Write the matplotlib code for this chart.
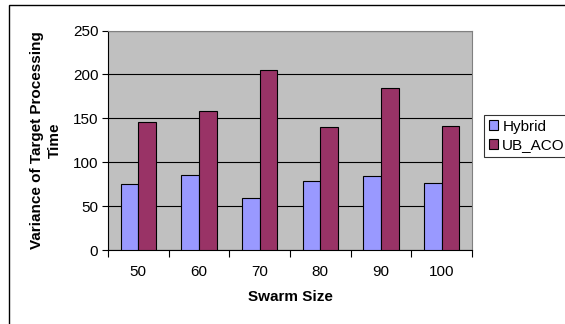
import matplotlib.pyplot as plt
import numpy as np
from matplotlib.patches import Rectangle

plt.rcParams['font.family'] = ['Liberation Sans', 'DejaVu Sans']

swarm_sizes = ['50', '60', '70', '80', '90', '100']
hybrid = [75, 85, 59, 79, 84, 76]
ub_aco = [146, 158, 205, 140, 185, 141]

fig = plt.figure(figsize=(5.65, 3.24), dpi=100)
ax = fig.add_axes([108 / 565, 1 - 250 / 324, 364 / 565, 219.5 / 324])

x = np.arange(len(swarm_sizes))
w = 0.29
ax.bar(x - w / 2, hybrid, w, color='#9999FF', edgecolor='black', linewidth=0.8,
       label='Hybrid', zorder=3)
ax.bar(x + w / 2, ub_aco, w, color='#993366', edgecolor='black', linewidth=0.8,
       label='UB_ACO', zorder=3)

ax.set_facecolor('#C0C0C0')
ax.set_xlim(-0.5, len(swarm_sizes) - 0.5)
ax.set_ylim(0, 250)
ax.set_yticks(range(0, 251, 50))
ax.yaxis.grid(True, color='black', linewidth=0.8, zorder=0)

# category labels between boundary ticks
ax.set_xticks(np.arange(-0.5, len(swarm_sizes), 1))
ax.set_xticklabels([])
ax.set_xticks(x, minor=True)
ax.set_xticklabels(swarm_sizes, minor=True)
ax.tick_params(axis='x', which='major', length=5, direction='out', width=0.8)
ax.tick_params(axis='x', which='minor', length=0, pad=11, labelsize=11)
ax.tick_params(axis='y', length=4, width=0.8, labelsize=11, pad=3)

for side in ['top', 'right']:
    ax.spines[side].set_color('#808080')
    ax.spines[side].set_linewidth(0.8)
ax.spines['left'].set_linewidth(0.8)
ax.spines['bottom'].set_linewidth(0.8)

ax.set_xlabel('Swarm Size', fontsize=11, fontweight='bold', labelpad=8)
ax.set_ylabel('Variance of Target Processing\nTime', fontsize=11,
              fontweight='bold', labelpad=8, linespacing=1.3)

leg = ax.legend(loc='upper left', bbox_to_anchor=(484 / 565, 1 - 115 / 324),
                bbox_transform=fig.transFigure, frameon=True, fancybox=False,
                fontsize=11, handlelength=0.6, handleheight=0.6,
                handletextpad=0.3, borderpad=0.3, labelspacing=0.3,
                borderaxespad=0)
leg.get_frame().set_edgecolor('black')
leg.get_frame().set_linewidth(0.8)

# outer chart border
fig.patches.append(Rectangle((9 / 565, -0.05), 1.2, 1 - 5 / 324 + 0.05,
                             transform=fig.transFigure, fill=False,
                             edgecolor='black', linewidth=1.0))

fig.savefig('out.png', dpi=100)
